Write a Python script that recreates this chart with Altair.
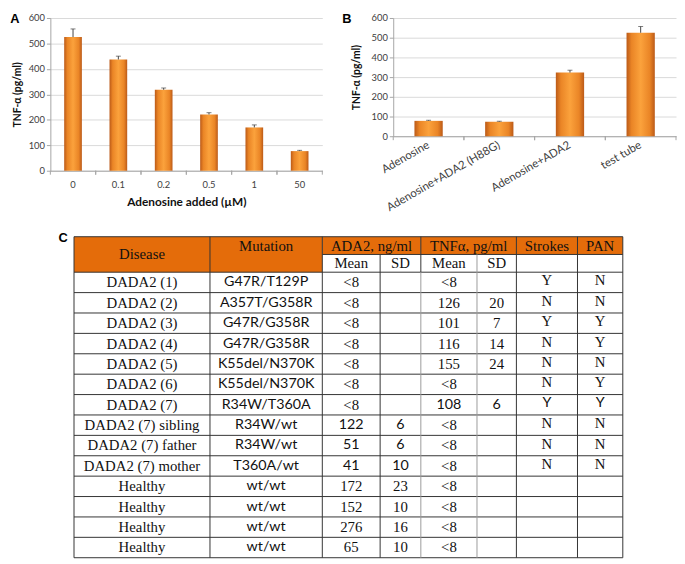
import altair as alt
import pandas as pd

# ---------------- Panel A data ----------------
conc_labels = ["0", "0.1", "0.2", "0.5", "1", "50"]
conc_tnf = [525, 437, 318, 221, 170, 77]
conc_err = [32, 13, 7, 7, 10, 3]

# ---------------- Panel B data ----------------
cond_labels = ["Adenosine", "Adenosine+ADA2 (H88G)", "Adenosine+ADA2", "test tube"]
cond_tnf = [78, 73, 323, 525]
cond_err = [3, 3, 12, 32]

y_ticks = [0, 100, 200, 300, 400, 500, 600]

# ---------------- Panel C table data ----------------
diseases = ["DADA2 (1)", "DADA2 (2)", "DADA2 (3)", "DADA2 (4)", "DADA2 (5)", "DADA2 (6)",
            "DADA2 (7)", "DADA2 (7) sibling", "DADA2 (7) father", "DADA2 (7) mother",
            "Healthy", "Healthy", "Healthy", "Healthy"]
mutations = ["G47R/T129P", "A357T/G358R", "G47R/G358R", "G47R/G358R", "K55del/N370K",
             "K55del/N370K", "R34W/T360A", "R34W/wt", "R34W/wt", "T360A/wt",
             "wt/wt", "wt/wt", "wt/wt", "wt/wt"]
ada2_mean = ["<8", "<8", "<8", "<8", "<8", "<8", "<8", "122", "51", "41", "172", "152", "276", "65"]
ada2_sd = ["", "", "", "", "", "", "", "6", "6", "10", "23", "10", "16", "10"]
tnf_mean = ["<8", "126", "101", "116", "155", "<8", "108", "<8", "<8", "<8", "<8", "<8", "<8", "<8"]
tnf_sd = ["", "20", "7", "14", "24", "", "6", "", "", "", "", "", "", ""]
strokes = ["Y", "N", "Y", "N", "N", "N", "Y", "N", "N", "N", "", "", "", ""]
pan = ["N", "N", "Y", "Y", "N", "Y", "Y", "N", "N", "N", "", "", "", ""]
header_top = ["Disease", "Mutation", "ADA2, ng/ml", "TNFα, pg/ml", "Strokes", "PAN"]
header_sub = ["Mean", "SD", "Mean", "SD"]
# cells typeset in a sans font in the original
ada2_sans_rows = [7, 8, 9]
dada7_sans_rows = [6]

# ---------------- styling / layout ----------------
SANS = "Lato"
SERIF = "Liberation Serif"
AXIS_GREY = "#a6a6a6"
GRID_GREY = "#d9d9d9"
LABEL_COL = "#404040"
ORANGE = "#E46C0A"

bar_fill = alt.Gradient(
    gradient="linear",
    stops=[
        alt.GradientStop(color="#bb5a18", offset=0),
        alt.GradientStop(color="#ea8526", offset=0.18),
        alt.GradientStop(color="#fba23c", offset=0.5),
        alt.GradientStop(color="#ea8526", offset=0.82),
        alt.GradientStop(color="#bb5a18", offset=1),
    ],
    x1=0, x2=1, y1=0, y2=0,
)

A_W, A_H = 276, 155
B_W, B_H = 287, 120
LEFT_PAD = -42


def bar_panel(labels, vals, errs, width, height, band, x_axis, title_x, letter, letter_x,
              bottom_marker=None):
    df = pd.DataFrame({"cat": labels, "val": vals,
                       "upper": [v + e for v, e in zip(vals, errs)]})
    xscale = alt.Scale(paddingInner=0, paddingOuter=0)
    yscale = alt.Scale(domain=[0, 600], nice=False)
    yaxis = alt.Axis(values=y_ticks, grid=True, gridColor=GRID_GREY, labelOverlap=False,
                     domainColor=AXIS_GREY, tickColor=AXIS_GREY, tickSize=4,
                     labelFont=SANS, labelFontSize=9.5, labelColor=LABEL_COL,
                     labelPadding=2, title="TNF-α (pg/ml)", titleFont=SANS,
                     titleFontSize=10.5, titleFontWeight="bold", titleColor="#111",
                     titleAngle=270, titleX=title_x, titleY=height / 2,
                     titleAlign="center", titleBaseline="middle")
    base = alt.Chart(df)
    bars = base.mark_bar(width=alt.RelativeBandSize(band), fill=bar_fill).encode(
        x=alt.X("cat:N", sort=labels, scale=xscale, axis=x_axis),
        y=alt.Y("val:Q", scale=yscale, axis=yaxis),
    )
    err = base.mark_rule(color="#444", strokeWidth=1).encode(
        x=alt.X("cat:N", sort=labels, scale=xscale, axis=x_axis),
        y=alt.Y("val:Q", scale=yscale, axis=yaxis),
        y2="upper:Q",
    )
    cap = base.mark_tick(color="#444", size=5, thickness=1).encode(
        x=alt.X("cat:N", sort=labels, scale=xscale, axis=x_axis),
        y=alt.Y("upper:Q", scale=yscale, axis=yaxis),
    )
    tick0 = base.mark_rule(color=AXIS_GREY).encode(
        x=alt.X("cat:N", sort=labels, bandPosition=0, scale=xscale, axis=x_axis),
        y=alt.value(height), y2=alt.value(height + 4),
    )
    tick1 = base.mark_rule(color=AXIS_GREY).encode(
        x=alt.X("cat:N", sort=labels, bandPosition=1, scale=xscale, axis=x_axis),
        y=alt.value(height), y2=alt.value(height + 4),
    )
    lab = alt.Chart(pd.DataFrame({"t": [letter]})).mark_text(
        font="Liberation Sans", fontSize=13, fontWeight="bold", color="#000",
        align="center", baseline="middle"
    ).encode(text="t:N", x=alt.value(letter_x), y=alt.value(1))
    layers = [bars, err, cap, tick0, tick1, lab]
    if bottom_marker is not None:
        marker = alt.Chart(pd.DataFrame({"t": [0]})).mark_rule(opacity=0, strokeOpacity=0).encode(
            x=alt.value(LEFT_PAD), x2=alt.value(LEFT_PAD),
            y=alt.value(0), y2=alt.value(bottom_marker),
        )
        layers.append(marker)
    return alt.layer(*layers).properties(width=width, height=height)


axisA = alt.Axis(ticks=False, tickSize=0, domainColor=AXIS_GREY, labelAngle=0,
                 labelFont=SANS, labelFontSize=9.5, labelColor=LABEL_COL, labelPadding=9,
                 title="Adenosine added (µM)", titleFont=SANS, titleFontSize=12,
                 titleFontWeight="bold", titleColor="#111", titlePadding=8)
axisB = alt.Axis(ticks=False, tickSize=0, domainColor=AXIS_GREY, labelAngle=330,
                 labelAlign="right", labelBaseline="middle", labelPadding=8,
                 labelFont=SANS, labelFontSize=11.5, labelColor=LABEL_COL, title=None)

chartA = bar_panel(conc_labels, conc_tnf, conc_err, A_W, A_H, 0.39, axisA, -33, "A", -36,
                   bottom_marker=A_H + 50)
chartB = bar_panel(cond_labels, cond_tnf, cond_err, B_W, B_H, 0.40, axisB, -37, "B", -47)

# ---------------- table ----------------
col_widths = [138, 114, 58.7, 41.3, 57, 40, 62, 46]
TX0 = 24
HEAD_H = 18
ROW_H = 20.7
n_rows = len(diseases)
edges = [TX0]
for w in col_widths:
    edges.append(edges[-1] + w)
TW = edges[-1]
TH = 2 * HEAD_H + n_rows * ROW_H


def cx(i, j=None):
    j = i + 1 if j is None else j
    return (edges[i] + edges[j]) / 2


fills = pd.DataFrame({
    "x0": [edges[0], edges[1], edges[2], edges[4], edges[6], edges[7]],
    "x1": [edges[1], edges[2], edges[4], edges[6], edges[7], edges[8]],
    "y0": [0] * 6,
    "y1": [2 * HEAD_H, 2 * HEAD_H, HEAD_H, HEAD_H, HEAD_H, HEAD_H],
})

DARK = "#333333"
LIGHT = "#9a9a9a"
lines = []
lines.append((edges[0], edges[8], 0, 0, DARK))
lines.append((edges[2], edges[8], HEAD_H, HEAD_H, DARK))
for k in range(n_rows + 1):
    yy = 2 * HEAD_H + k * ROW_H
    lines.append((edges[0], edges[8], yy, yy, DARK))
for e in [0, 1, 2, 6, 7, 8]:
    lines.append((edges[e], edges[e], 0, TH, DARK))
lines.append((edges[3], edges[3], HEAD_H, TH, DARK))
lines.append((edges[4], edges[4], 0, 2 * HEAD_H, DARK))
lines.append((edges[4], edges[4], 2 * HEAD_H, TH, LIGHT))
lines.append((edges[5], edges[5], HEAD_H, TH, LIGHT))
lines_df = pd.DataFrame(lines, columns=["x0", "x1", "y0", "y1", "c"])

texts = []  # (x, y, text, font)
texts.append((cx(0), HEAD_H, header_top[0], "serif"))
texts.append((cx(1), HEAD_H / 2, header_top[1], "serif"))
texts.append((cx(2, 4), HEAD_H / 2, header_top[2], "serif"))
texts.append((cx(4, 6), HEAD_H / 2, header_top[3], "serif"))
texts.append((cx(6), HEAD_H / 2, header_top[4], "serif"))
texts.append((cx(7), HEAD_H / 2, header_top[5], "serif"))
for k, h in enumerate(header_sub):
    texts.append((cx(2 + k), HEAD_H * 1.5, h, "serif"))

columns = [diseases, mutations, ada2_mean, ada2_sd, tnf_mean, tnf_sd, strokes, pan]
for r in range(n_rows):
    yy = 2 * HEAD_H + (r + 0.5) * ROW_H
    for c, col in enumerate(columns):
        t = col[r]
        if not t:
            continue
        font = "serif"
        if c == 1:
            font = "sans"
        elif c in (2, 3) and r in ada2_sans_rows:
            font = "sans"
        elif c >= 4 and r in dada7_sans_rows:
            font = "sans"
        dy = -2 if c >= 6 else 0
        texts.append((cx(c), yy + dy, t, font))
text_df = pd.DataFrame(texts, columns=["x", "y", "t", "f"])

tx = alt.Scale(domain=[0, TW], nice=False, zero=False)
ty = alt.Scale(domain=[0, TH], nice=False, zero=False, reverse=True)

fill_layer = alt.Chart(fills).mark_rect(color=ORANGE).encode(
    x=alt.X("x0:Q", scale=tx, axis=None), x2="x1:Q",
    y=alt.Y("y0:Q", scale=ty, axis=None), y2="y1:Q",
)
line_layer = alt.Chart(lines_df).mark_rule(strokeWidth=1).encode(
    x=alt.X("x0:Q", scale=tx, axis=None), x2="x1:Q",
    y=alt.Y("y0:Q", scale=ty, axis=None), y2="y1:Q",
    color=alt.Color("c:N", scale=None),
)
serif_layer = alt.Chart(text_df[text_df.f == "serif"]).mark_text(
    font=SERIF, fontSize=15, color="#111", align="center", baseline="middle"
).encode(x=alt.X("x:Q", scale=tx, axis=None), y=alt.Y("y:Q", scale=ty, axis=None), text="t:N")
sans_layer = alt.Chart(text_df[text_df.f == "sans"]).mark_text(
    font=SANS, fontSize=14.5, color="#111", align="center", baseline="middle"
).encode(x=alt.X("x:Q", scale=tx, axis=None), y=alt.Y("y:Q", scale=ty, axis=None), text="t:N")
c_label = alt.Chart(pd.DataFrame({"t": ["C"]})).mark_text(
    font="Liberation Sans", fontSize=13, fontWeight="bold", color="#000",
    align="center", baseline="middle"
).encode(text="t:N", x=alt.value(13), y=alt.value(1))
table_marker = alt.Chart(pd.DataFrame({"t": [0]})).mark_rule(opacity=0, strokeOpacity=0).encode(
    x=alt.value(LEFT_PAD), x2=alt.value(LEFT_PAD), y=alt.value(-8), y2=alt.value(0),
)

table = alt.layer(fill_layer, line_layer, serif_layer, sans_layer, c_label, table_marker).properties(
    width=TW, height=TH
)

top = alt.hconcat(chartA, chartB, spacing=72, bounds="flush")
chart = alt.vconcat(top, table, spacing=7, padding=0).configure_view(
    stroke="transparent"
)

chart.save("out.html", embed_options={"renderer": "svg", "actions": False})
